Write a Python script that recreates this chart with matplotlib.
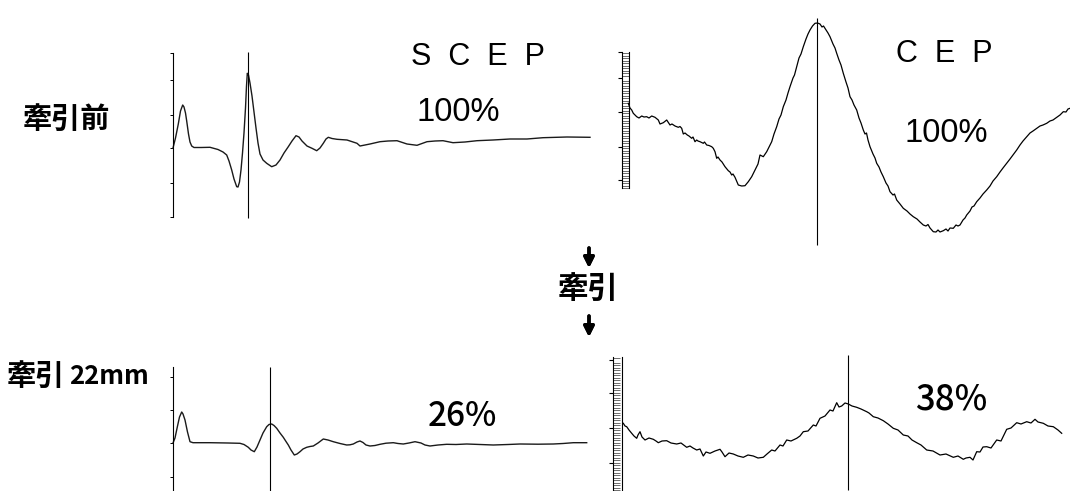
import matplotlib.pyplot as plt
import numpy as np
from matplotlib.ticker import FixedLocator

plt.rcParams['font.family'] = ['Noto Sans CJK JP', 'DejaVu Sans']

# SCEP before traction (sample position, amplitude)
scep_pre_t = [0, 2.5, 5.3, 7.5, 9.7, 11, 12.5, 13.7, 15.5, 17, 18.7, 21, 28, 37, 45, 50, 53.7, 56, 58.7,
              61, 63.7, 65, 66.5, 68, 69.5, 71, 72.5, 73.5, 74.3, 75.5, 77, 79, 81, 83, 85, 87, 90,
              93.7, 98.7, 103, 107, 111, 115.3, 119, 123, 126, 129, 134, 139, 143.7, 147, 150.3,
              153, 155.3, 159, 164, 174, 184, 187, 192, 197, 207, 215, 224, 234, 244, 254, 262,
              270, 280, 292, 304, 320, 337, 354, 370, 394, 417]
scep_pre_v = [0, 10, 24, 37, 43, 41, 35, 27, 14, 6, 2, 0.5, 0.5, 0.7, -1.5, -4, -7, -13, -22,
              -31, -38.7, -39, -34, -22, -5, 15, 40, 62, 74.7, 73, 65, 52, 36, 20, 5, -6, -12,
              -15.3, -18.7, -17, -12, -5, 1.3, 7, 12.3, 11, 7, 2, -0.3, -2.7, 0, 4.7,
              9, 10.7, 9.5, 8.7, 8, 4.7, 2, 3, 4, 6.3, 7, 7.3, 4, 2.7, 6.3, 7,
              7.3, 5.3, 6, 7.3, 8, 9, 9, 10.3, 11, 10.7]
scep_pre_peak = 75

# CEP before traction
cep_pre_t = [2.3, 4, 5.7, 7.3, 9, 10.7, 13, 15.7, 18, 20.7, 23, 25.7, 29, 32.3, 34, 37.3, 40.7, 42,
             44, 46, 49, 52.3, 54, 55.7, 57.3, 59, 61.3, 63, 65.7, 67, 69, 70.7, 72, 74, 77.3, 78.5,
             80.7, 83, 85.7, 87.3, 89, 90.7, 92, 94, 96, 97.3, 99, 102.3, 104, 105.7, 107, 109,
             112.3, 115.7, 119, 122.3, 125.7, 128, 130.7, 132, 134, 137.3, 140.7, 143, 145.7,
             148, 150.7, 153, 155, 157.3, 160, 162, 164, 167, 168.5, 170.7, 173, 175, 177.3,
             180, 182, 184, 186.5, 189, 191.5, 194, 196, 197.5, 199, 202, 204, 207, 209,
             210.7, 213, 215, 217.3, 220, 222, 224, 226, 228, 230.7, 233, 235, 237.3, 239,
             240.5, 242, 244, 247, 249, 250.7, 253, 255, 257.3, 260, 262, 264, 267, 268.5,
             270.7, 274, 277.3, 281, 284, 287.3, 291, 294, 297.3, 300, 302, 304, 307.3, 310,
             312, 314, 317.3, 320, 322, 324, 327.3, 330, 332, 334, 337, 339, 340.7, 344, 346,
             348, 350.7, 354, 357, 360.7, 364, 367, 370.7, 374, 377, 380.7, 384, 387, 390.7,
             394, 397, 400.7, 404, 407, 410.7, 414, 417, 420.7, 424, 427, 430.7, 434, 437.3,
             440, 442, 444]
cep_pre_v = [16.7, 12, 10, 6.7, 5, 3.3, 2, 4, 3, 3.3, 2, 4, 2.7, 0, -4, -2.7, 0, -2,
             -5, -4, -6, -7.3, -6.5, -8.3, -14, -13, -15, -16, -18.3, -17, -21.7, -20, -21, -21.7, -23.3, -22,
             -25, -25.5, -26.7, -28.3, -31.7, -38.3, -37, -40, -42, -44, -46.7, -50.7, -52, -55, -54, -57.3,
             -65, -66, -65.7, -61.7, -56.7, -52, -46.7, -44, -35, -36.7, -31.7, -27, -21.7,
             -14, -6.7, 1, 5, 13.3, 20, 27, 33.3, 42, 45, 53.3, 62, 66, 73.3,
             81, 86, 90, 94, 96.7, 97, 96, 93, 94, 91.7, 87, 83.3, 76, 72,
             66.7, 60, 55, 46.7, 38, 32, 23.3, 20, 15, 10, 2, -3, -10, -14,
             -13, -20, -26.7, -34, -38, -43.3, -47, -52, -56.7, -63, -66, -71.7, -75, -74,
             -80, -84, -88.3, -91, -94, -96.7, -99, -102, -105, -106, -104.5, -108, -111.7, -112,
             -110, -112, -110.7, -109, -111, -108, -108.3, -105, -106, -105, -100, -98, -95, -91, -87,
             -86, -81.7, -78, -74, -70, -66, -61, -56.7, -52, -48, -43.3, -39, -35, -30,
             -25, -21, -16.7, -13, -11, -8.3, -6, -5, -3.3, -1, 0, 2.7, 5, 8.3,
             8, 11, 11.7]
cep_pre_peak = 190.7

# SCEP after 22 mm traction
scep_post_t = [0, 2, 4.3, 6.5, 8.7, 10, 12, 14.5, 17, 20, 37, 55, 67, 71, 75.3, 78, 81.3, 84, 87,
               90, 93.7, 96, 98.7, 101, 103.7, 107, 110.3, 113, 115.3, 118, 121.3, 124, 127,
               130, 133.7, 137, 140.3, 145, 150.3, 155, 160.3, 167, 173.7, 177, 180.3, 184,
               187, 190, 193, 197, 202, 207, 213, 220.3, 225, 230.3, 236, 242, 248, 252, 257,
               265, 273.7, 283, 293.7, 307, 320.3, 335, 347, 365, 380.3, 390, 400.3, 413.7]
scep_post_v = [0, 5, 16, 26, 31, 29, 23, 11, 1.3, 0.3, 0.3, 0, -0.3, -1.5, -4.3, -7, -8.7, -4, 3,
               10, 16.3, 18.5, 19, 17.5, 14.7, 10, 5.7, 1.5, -2, -7, -12, -11, -8.7,
               -6, -4.3, -3.5, -3, 0, 4, 3, 1.3, -0.5, -2, -1.8, -1, 1,
               2, 0.5, -2, -3, -2.5, -1.3, -0.2, 0.3, -0.5, -1, 0, 1.3, 0, -2, -3,
               -2, -1.3, -1.5, -1, -1.5, -2, -1.5, -1, -1.2, -1, -0.5, 0.3, 0.3]
scep_post_peak = 97

# CEP after 22 mm traction
cep_post_t = [5.3, 7, 8.7, 11, 13.7, 16, 18.7, 20, 22, 24, 27, 31, 35.3, 38, 40.3, 44, 48.7, 53,
              58.7, 63, 68.7, 72, 75, 78.7, 82, 85.3, 88, 92, 97, 102, 104, 107, 111, 115.3,
              120, 125.3, 130, 135.3, 140, 145.3, 149, 153.7, 157, 162, 165, 168.7, 173, 178.7,
              182, 185.3, 190, 195.3, 198, 202, 207, 212, 215, 218.7, 221, 223.7, 227, 230.3,
              234, 238.7, 243, 248.7, 251, 255.3, 260, 265.3, 270, 275.3, 280, 285.3, 290,
              294, 298.7, 303, 308.7, 315, 322, 328, 335.3, 340, 345.3, 348, 352, 355, 358.7,
              362, 365, 368.7, 373, 378.7, 383, 388.7, 393, 398.7, 403, 408.7, 413, 417, 420,
              425.3, 430, 435.3, 440, 443.7]
cep_post_v = [16.7, 14, 13.3, 10, 6.7, 4, 1.7, 5, 8.3, 3, 0, 2, 0.7, -1, -2.7, -1, -0.7, -3,
              -4, -3, -7.3, -6, -8, -10, -9, -16, -12, -13.3, -11, -9.3, -12, -16.7, -13, -14,
              -16, -17.3, -15, -16, -18, -17.3, -14, -10, -11, -5, -6, 0, -1, 1.7,
              4, 8.3, 9, 15, 14, 21.7, 24, 30, 29, 37.3, 33, 34, 37, 36,
              34, 32.7, 31, 28.3, 27, 23.3, 22, 19.3, 16, 11.7, 10, 5, 4,
              0, -2.7, -5, -10, -11, -15, -14, -17.3, -16, -19.3, -18, -17.3, -20, -11.7,
              -12, -7, -6.7, -8, 0, -1, 10.7, 12, 17.3, 16, 18.3, 17, 20.7, 18,
              16.7, 14, 13.3, 10, 6.7]
cep_post_peak = 230.3

W, H = 1070, 491
fig = plt.figure(figsize=(W / 100, H / 100), dpi=100)


def panel(left, right, top, bottom, ox, oy):
    # axes placed by pixel box; (ox, oy) is the pixel position of t=0, v=0
    ax = fig.add_axes([left / W, 1 - bottom / H, (right - left) / W, (bottom - top) / H])
    ax.set_xlim(left - ox, right - ox)
    ax.set_ylim(oy - bottom, oy - top)
    ax.patch.set_alpha(0)
    for s in ['top', 'right', 'bottom']:
        ax.spines[s].set_visible(False)
    ax.set_xticks([])
    return ax


def scep_axis(ax, lo, hi, ticks):
    ax.spines['left'].set_position(('data', 0))
    ax.spines['left'].set_bounds(lo, hi)
    ax.spines['left'].set_linewidth(0.8)
    ax.set_yticks(ticks)
    ax.set_yticklabels([])
    ax.tick_params(axis='y', direction='out', length=2, width=0.7)


def cep_axis(ax, x0, x1, lo, hi, ticks):
    # double rail with a dense comb of small ticks
    for s, x in [('left', x0), ('right', x1)]:
        ax.spines[s].set_visible(True)
        ax.spines[s].set_position(('data', x))
        ax.spines[s].set_bounds(lo, hi)
        ax.spines[s].set_linewidth(0.8)
    ax.set_yticks(ticks)
    ax.set_yticklabels([])
    ax.yaxis.set_minor_locator(FixedLocator(np.arange(lo, hi + 0.1, 2.5)))
    ax.tick_params(axis='y', which='major', direction='out', length=3, width=0.8)
    ax.tick_params(axis='y', which='minor', direction='in', length=5, width=0.6,
                   color='#555555')
    ax.tick_params(axis='y', which='both', right=False)


trace = dict(color='black', lw=0.9)
marker = dict(color='black', lw=0.8)

ax1 = panel(160, 600, 40, 230, 173, 148)
scep_axis(ax1, -69, 95, [95, 68, 33, 0, -35, -69])
ax1.plot(scep_pre_t, scep_pre_v, color='#1a1a1a', lw=1.0)
ax1.vlines(scep_pre_peak, -70, 96, **marker)

ax2 = panel(600, 1070, 10, 250, 626, 120)
cep_axis(ax2, -4, 3, -68, 68, [68, 42, 8, -27, -60])
ax2.plot(cep_pre_t, cep_pre_v, **trace)
ax2.vlines(cep_pre_peak, -125, 102, **marker)

ax3 = panel(160, 600, 350, 491, 173, 443)
scep_axis(ax3, -48, 76, [66, 33, 0, -34])
ax3.plot(scep_post_t, scep_post_v, color='#1a1a1a', lw=1.0)
ax3.vlines(scep_post_peak, -48, 76, **marker)

ax4 = panel(600, 1070, 350, 491, 618, 440)
cep_axis(ax4, -5, 4, -50, 83, [80, 47, 12, -23])
ax4.plot(cep_post_t, cep_post_v, **trace)
ax4.vlines(cep_post_peak, -50, 85, **marker)


def label(x, y, s, size, **kw):
    fig.text(x / W, 1 - y / H, s, fontsize=size, ha='center', va='center', **kw)


latin = ['Liberation Sans', 'DejaVu Sans']

label(478, 57, 'S  C  E  P', 22, family=latin)
label(458, 112, '100%', 23.5, family=latin)
label(944, 54, 'C  E  P', 22, family=latin)
label(946, 134, '100%', 23.5, family=latin)
label(462, 416, '26%', 24, fontweight='medium')
label(951, 400, '38%', 25, fontweight='medium')

label(66, 119, '牽引前', 21, fontweight='bold')
fig.text(7 / W, 1 - 376 / H, '牽引', fontsize=21, fontweight='bold', ha='left', va='center')
fig.text(69 / W, 1 - 377 / H, '22mm', fontsize=18.5, fontweight='bold', ha='left', va='center')
label(588, 289, '牽引', 22, fontweight='bold')

for y0, y1 in [(248, 268), (316, 337)]:
    fig.add_artist(plt.annotate('', xy=(589, H - y1), xytext=(589, H - y0),
                                xycoords='figure pixels', textcoords='figure pixels',
                                arrowprops=dict(arrowstyle='-|>', lw=2.5, color='black',
                                                mutation_scale=15, shrinkA=0, shrinkB=0)))

fig.savefig('out.png', dpi=100)
